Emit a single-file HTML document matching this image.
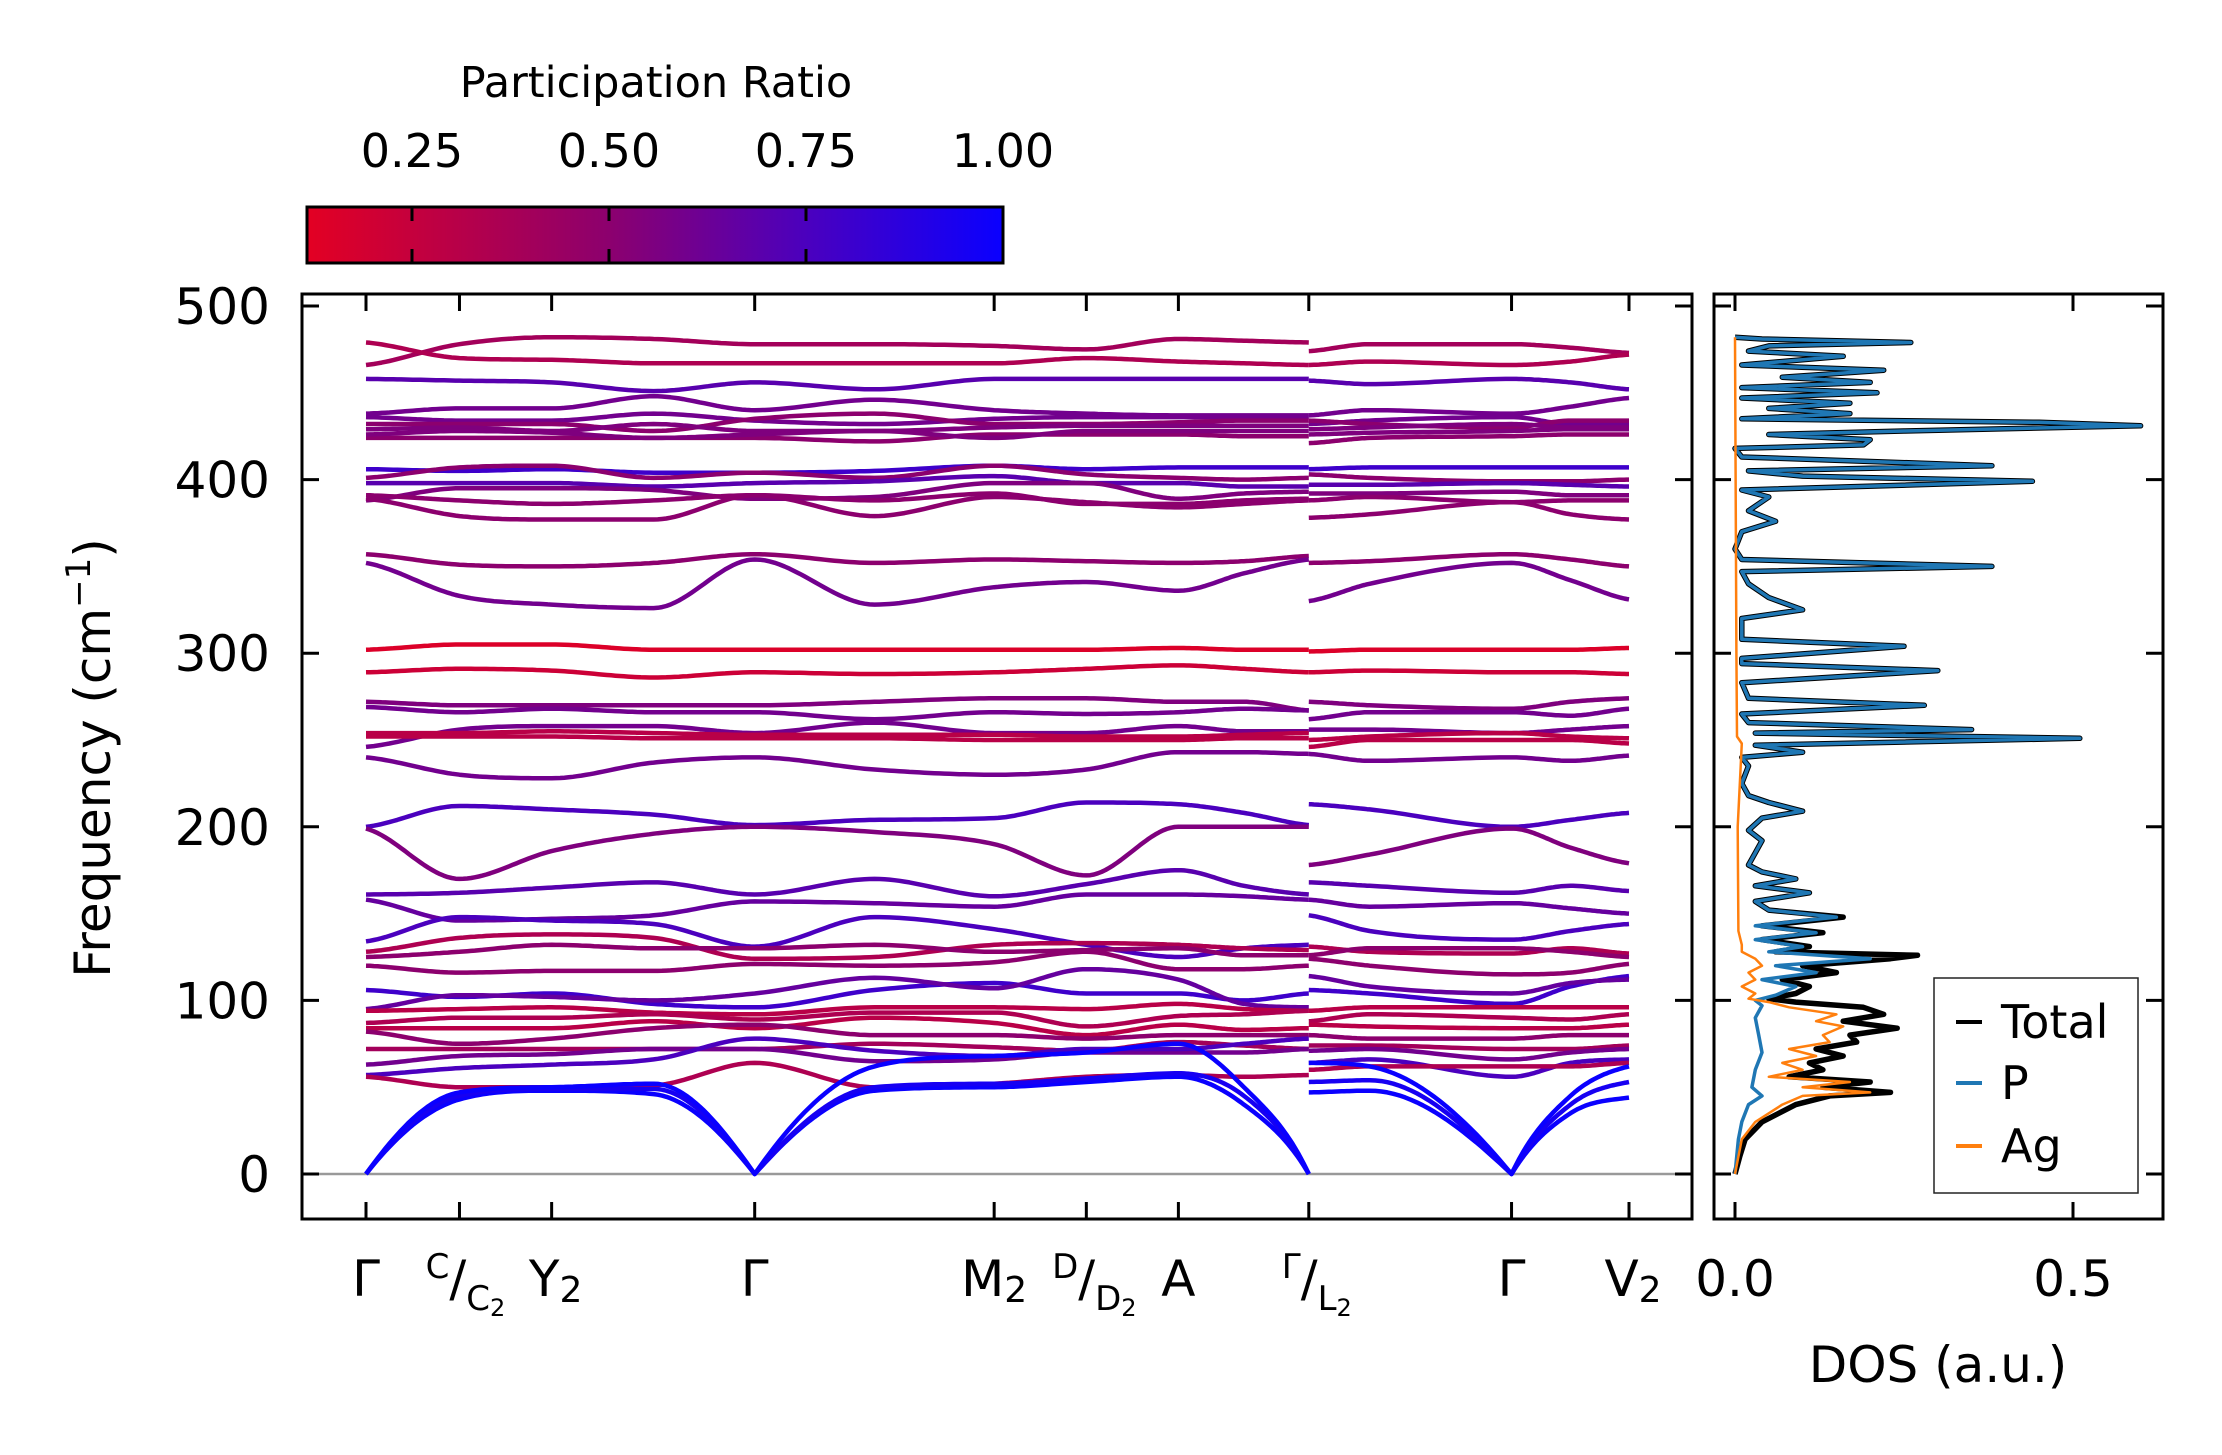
<!DOCTYPE html>
<html><head><meta charset="utf-8">
<style>
html,body{margin:0;padding:0;background:#fff;}
svg{display:block;font-family:"DejaVu Sans","Liberation Sans",sans-serif;}
</style></head>
<body>
<svg id="fig" width="2222" height="1455" viewBox="0 0 2222 1455" xmlns="http://www.w3.org/2000/svg">
<defs>
<linearGradient id="cmap" x1="0" x2="1" y1="0" y2="0">
<stop offset="0" stop-color="rgb(227,0,35)"/>
<stop offset="0.434" stop-color="rgb(140,0,110)"/>
<stop offset="0.717" stop-color="rgb(75,0,190)"/>
<stop offset="1" stop-color="rgb(10,0,255)"/>
</linearGradient>
<clipPath id="mainClip"><rect x="302" y="294" width="1390" height="925"/></clipPath>
<clipPath id="dosClip"><rect x="1714" y="294" width="449" height="925"/></clipPath>
</defs>
<g id="colorbar">
<text x="656" y="97" font-size="43" text-anchor="middle">Participation Ratio</text>
<rect x="307" y="207" width="696" height="56" fill="url(#cmap)" stroke="#000" stroke-width="3"/>
</g>
<g id="bands" clip-path="url(#mainClip)"></g>
<g id="dos" clip-path="url(#dosClip)"></g>
<g id="axes"></g>
</svg>
<script>
// ---- Band structure data ----
const seg1Labels = ["Γ","C","Y2","m1","Γ","m2","M2","D","A","m3","L2"];
const seg1Pos = [0,0.0924,0.1835,0.2843,0.3842,0.5026,0.6209,0.7120,0.8030,0.8678,0.9319];
const seg2Pos = [0.9319,0.9920,1.1323,1.1906,1.2484];
const bandSeg1 = [
[466,478,482,481,478,478,477,475,481,480,479],
[479,470,469,467,467,467,467,470,468,467,466],
[458,457,456,451,456,452,458,458,458,458,458],
[438,441,441,448,440,446,440,438,437,437,437],
[436,434,434,438,434,432,435,436,436,436,436],
[432,432,432,428,435,438,432,432,433,434,434],
[429,430,428,432,428,428,430,431,431,431,431],
[424,424,424,424,424,422,426,426,426,425,425],
[426,428,427,424,426,428,424,428,428,428,428],
[406,405,406,404,404,405,408,406,407,407,407],
[401,407,408,401,404,401,408,403,401,400,401],
[398,398,398,396,398,399,402,398,398,396,396],
[388,395,395,394,389,390,398,398,389,392,393],
[391,388,386,388,391,388,392,386,386,388,389],
[389,379,377,377,391,379,390,387,384,386,388],
[357,351,350,352,357,352,354,353,352,353,356],
[352,333,328,326,354,328,338,341,336,346,354],
[302,305,305,302,302,302,302,302,303,302,302],
[289,291,290,286,289,288,289,291,293,291,289],
[272,270,270,270,270,272,274,274,272,272,267],
[269,266,268,266,266,262,266,265,266,268,267],
[246,256,258,258,254,260,254,254,258,255,255],
[254,254,255,254,253,253,253,252,252,253,254],
[252,252,252,251,251,251,250,250,250,251,251],
[240,230,228,237,240,233,230,233,243,243,242],
[200,212,210,207,201,204,205,214,213,208,201],
[199,170,186,196,200,197,190,172,200,200,200],
[161,162,165,168,161,170,160,167,175,166,161],
[158,146,147,149,157,156,154,161,161,160,158],
[134,148,146,144,131,148,141,132,125,130,132],
[128,136,138,136,124,125,132,133,132,130,129],
[125,128,132,130,130,132,128,129,130,126,126],
[120,116,117,117,121,120,122,128,118,118,120],
[106,102,104,98,96,106,110,104,104,100,104],
[95,103,102,100,104,113,107,118,112,98,96],
[94,95,96,93,92,96,96,95,98,95,94],
[87,90,90,92,89,93,93,85,91,92,94],
[84,84,84,88,84,90,87,80,86,83,84],
[82,75,78,84,86,80,80,78,80,80,80],
[72,72,72,72,72,75,73,71,76,74,72],
[63,68,69,72,72,65,66,70,70,70,72],
[57,61,63,66,78,71,68,72,72,75,78],
[56,50,50,51,64,50,52,56,57,56,57],
[0,43,48,46,0,48,50,53,56,40,0],
[0,45,49,49,0,50,52,55,58,45,0],
[0,47,50,52,0,62,68,70,75,50,0]
];
const bandSeg2 = [
[474,478,478,476,473],[466,468,466,468,472],[457,455,458,456,452],
[437,440,438,442,447],[432,434,436,432,432],[434,432,430,434,434],
[429,430,432,430,430],[421,424,425,426,426],[426,427,428,429,429],
[406,407,407,407,407],[403,401,399,399,400],[397,397,398,397,396],
[392,392,393,391,391],[388,390,387,388,388],[378,380,387,380,377],
[352,353,357,354,350],[330,340,352,342,331],[301,302,302,302,303],
[289,290,289,289,288],[272,270,268,272,274],[262,266,266,264,268],
[256,256,254,256,258],[250,252,254,252,251],[246,250,250,250,248],
[242,238,240,238,241],[213,210,200,204,208],[178,184,199,188,179],
[168,166,162,166,163],[158,154,156,153,150],[149,140,135,140,144],
[131,128,127,130,127],[126,130,130,128,125],[124,120,115,116,121],
[106,104,98,108,114],[114,108,104,110,112],[94,96,96,96,96],
[88,92,90,89,92],[86,85,84,84,86],[80,78,78,80,80],
[74,74,72,72,74],[71,72,66,70,72],[64,66,56,64,66],
[60,62,62,62,64],[47,48,0,35,44],[53,54,0,40,53],[64,62,0,45,62]
];
const bandPR = [0.4,0.35,0.7,0.6,0.6,0.5,0.55,0.5,0.55,0.8,0.5,0.7,0.55,0.5,0.5,0.5,0.6,0.15,0.22,0.55,0.6,0.6,0.3,0.3,0.6,0.75,0.55,0.7,0.65,0.75,0.35,0.5,0.5,0.8,0.65,0.3,0.35,0.3,0.5,0.4,0.6,0.75,0.35,1.0,0.95,1.0];

const yTicks = [0,100,200,300,400,500];
const kTickPos = [0,0.0924,0.1835,0.3842,0.6209,0.7120,0.8030,0.9319,1.1323,1.2484];
const cbTicks = [0.25,0.50,0.75,1.00];
const cbTickLabels = ["0.25","0.50","0.75","1.00"];

// ---- DOS data ----
const dosFreqP = [0,20,30,40,45,50,60,70,80,90,97,100,103,108,112,116,120,124,128,131,135,139,143,148,152,157,162,166,170,174,178,185,192,198,205,209,214,218,225,235,240,243,247,251,254,256,260,265,270,274,283,290,294,297,304,308,320,325,332,340,347,350,354,360,370,376,382,390,394,399,402,405,408,413,418,420,423,426,428,431,433,435,438,441,444,447,450,453,456,459,463,466,471,474,477,479,481,482];
const dosP = [0,0.005,0.01,0.02,0.04,0.025,0.03,0.04,0.035,0.03,0.04,0.03,0.06,0.09,0.04,0.12,0.06,0.2,0.05,0.1,0.03,0.12,0.03,0.15,0.05,0.03,0.11,0.03,0.09,0.04,0.02,0.03,0.04,0.02,0.04,0.1,0.05,0.02,0.01,0.02,0.01,0.1,0.03,0.51,0.03,0.35,0.02,0.01,0.28,0.02,0.01,0.3,0.01,0.01,0.25,0.01,0.01,0.1,0.05,0.02,0.01,0.38,0.01,0,0.01,0.06,0.02,0.05,0.01,0.44,0.1,0.02,0.38,0.01,0,0.19,0.2,0.05,0.25,0.6,0.45,0.01,0.17,0.05,0.17,0.01,0.21,0.01,0.2,0.07,0.22,0.01,0.16,0.02,0.05,0.26,0.04,0];
const dosFreqAg = [0,10,20,30,40,45,47,50,53,56,60,64,68,72,76,80,85,88,92,96,99,101,104,108,112,116,120,124,128,132,140,200,248,252,300,482];
const dosAg = [0,0.005,0.01,0.03,0.07,0.1,0.2,0.1,0.17,0.05,0.1,0.07,0.12,0.08,0.14,0.13,0.16,0.12,0.15,0.08,0.05,0.02,0.03,0.01,0.03,0.02,0.04,0.03,0.01,0.01,0.005,0.004,0.01,0.003,0.002,0];
const dosFreqTot = [0,10,20,30,40,45,47,50,53,56,60,64,68,72,76,80,84,88,92,96,99,101,104,108,112,116,120,124,126,128,131,135,139,143,148,152];
const dosTot = [0,0.007,0.015,0.04,0.09,0.14,0.23,0.13,0.2,0.08,0.13,0.11,0.16,0.12,0.18,0.17,0.24,0.16,0.22,0.19,0.09,0.05,0.09,0.11,0.07,0.15,0.1,0.23,0.27,0.06,0.11,0.04,0.13,0.04,0.16,0.05];

// ---- scales ----
const X0 = 366, KSCALE = (1629-366)/1.2484;
function xk(k){ return X0 + k*KSCALE; }
function yf(f){ return 1174 - f*1.736; }
function xd(d){ return 1735 + d*676; }
function xcb(v){ return 412 + (v-0.25)*788; }
function prColor(v){
  const stops=[[0.117,[227,0,35]],[0.5,[140,0,110]],[0.75,[75,0,190]],[1.0,[10,0,255]]];
  v=Math.max(0.117,Math.min(1,v));
  for(let i=0;i<stops.length-1;i++){
    const [a,ca]=stops[i],[b,cb]=stops[i+1];
    if(v<=b){const t=(v-a)/(b-a);return 'rgb('+ca.map((c,j)=>Math.round(c+(cb[j]-c)*t)).join(',')+')';}
  }
  return 'rgb(10,0,255)';
}
const NS='http://www.w3.org/2000/svg';
function mk(tag,attrs,parent){const e=document.createElementNS(NS,tag);for(const k in attrs)e.setAttribute(k,attrs[k]);parent.appendChild(e);return e;}

// monotone cubic interpolation with cusp endpoints
function monotonePiece(xs,ys,n){
  const m=xs.length,d=[],t=[];
  for(let i=0;i<m-1;i++)d.push((ys[i+1]-ys[i])/(xs[i+1]-xs[i]));
  if(m===2){t[0]=d[0];t[1]=d[0];}
  else{
    t[0]=(ys[0]===0)?d[0]*1.6:d[0]*0.5;
    t[m-1]=(ys[m-1]===0)?d[m-2]*1.6:d[m-2]*0.5;
    for(let i=1;i<m-1;i++){t[i]=(d[i-1]*d[i]<=0)?0:(d[i-1]+d[i])/2;}
  }
  for(let i=0;i<m-1;i++){if(d[i]===0){t[i]=0;t[i+1]=0;continue;}
    const a=t[i]/d[i],b=t[i+1]/d[i],s=a*a+b*b;if(s>9){const tau=3/Math.sqrt(s);t[i]=tau*a*d[i];t[i+1]=tau*b*d[i];}}
  const pts=[];
  for(let i=0;i<m-1;i++){const h=xs[i+1]-xs[i];
    for(let j=0;j<n;j++){const s=j/n,h00=2*s*s*s-3*s*s+1,h10=s*s*s-2*s*s+s,h01=-2*s*s*s+3*s*s,h11=s*s*s-s*s;
      pts.push([xs[i]+s*h,h00*ys[i]+h10*h*t[i]+h01*ys[i+1]+h11*h*t[i+1]]);}}
  pts.push([xs[m-1],ys[m-1]]);return pts;
}
function interp(xs,ys,n){
  // split at interior zeros (Gamma cusps)
  let pts=[],start=0;
  for(let i=1;i<xs.length;i++){
    if(i===xs.length-1||ys[i]===0){
      const p=monotonePiece(xs.slice(start,i+1),ys.slice(start,i+1),n);
      pts=pts.concat(start===0?p:p.slice(1));start=i;
    }
  }
  return pts;
}

const gB=document.getElementById('bands');
const zl=mk('line',{x1:302,x2:1692,y1:yf(0),y2:yf(0),stroke:'#999','stroke-width':2.5},gB);


function drawBand(pos,vals,color,name){
  const pts=interp(pos.map(xk),vals,24).map(q=>[q[0],yf(q[1])]);
  const p=mk('path',{d:'M'+pts.map(q=>q[0].toFixed(1)+','+q[1].toFixed(1)).join('L'),fill:'none',stroke:color,'stroke-width':4.5,'stroke-linejoin':'round'},gB);
  
  
}
bandSeg1.forEach((b,i)=>drawBand(seg1Pos,b,prColor(bandPR[i]),'band-'+(i+1)+'-segment-1'));
bandSeg2.forEach((b,i)=>drawBand(seg2Pos,b,prColor(bandPR[i]),'band-'+(i+1)+'-segment-2'));

// DOS
const gD=document.getElementById('dos');
function drawDos(fr,vals,color,w,name){
  const p=mk('path',{d:'M'+fr.map((f,i)=>xd(vals[i]).toFixed(1)+','+yf(f).toFixed(1)).join('L'),fill:'none',stroke:color,'stroke-width':w,'stroke-linejoin':'round'},gD);
  
  
}
const cut=dosFreqP.indexOf(152)+1;
drawDos(dosFreqTot.concat(dosFreqP.slice(cut)),dosTot.concat(dosP.slice(cut)),'#000',5.5,'dos-total-line');
drawDos(dosFreqP,dosP,'#1f77b4',3.5,'dos-p-line');
drawDos(dosFreqAg,dosAg,'#ff7f0e',2.5,'dos-ag-line');

// Axes
const gA=document.getElementById('axes');
function line(x1,y1,x2,y2,w,name){const l=mk('line',{x1,y1,x2,y2,stroke:'#000','stroke-width':w},gA);return l;}
function txt(x,y,s,size,anchor,name){const t=mk('text',{x,y,'font-size':size,'text-anchor':anchor||'middle'},gA);t.textContent=s;return t;}
const mf=mk('rect',{x:302,y:294,width:1390,height:925,fill:'none',stroke:'#000','stroke-width':3},gA);


const df=mk('rect',{x:1714,y:294,width:449,height:925,fill:'none',stroke:'#000','stroke-width':3},gA);


yTicks.forEach(v=>{const y=yf(v);
  line(302,y,319,y,3,'y-tick-left-'+v);line(1675,y,1692,y,3,'y-tick-right-'+v);
  line(1714,y,1731,y,3,'dos-y-tick-left-'+v);line(2146,y,2163,y,3,'dos-y-tick-right-'+v);
  txt(270,y+18,String(v),50,'end','y-tick-label-'+v);});
kTickPos.forEach((k,i)=>{const x=xk(k);line(x,294,x,311,3,'x-tick-top-'+i);line(x,1202,x,1219,3,'x-tick-bottom-'+i);});
[0,0.5].forEach(d=>{const x=xd(d);line(x,294,x,311,3,'dos-x-tick-top-'+d);line(x,1202,x,1219,3,'dos-x-tick-bottom-'+d);
  txt(x,1296,d.toFixed(1),50,'middle','dos-x-tick-label-'+d);});
function klabel(x,html,name){const t=mk('text',{x,y:1296,'font-size':50,'text-anchor':'middle'},gA);t.innerHTML=html;}
klabel(xk(0),'Γ','k-label-gamma-1');
klabel(xk(0.0924)+6,'<tspan font-size="34" dy="-18">C</tspan><tspan dy="18">/</tspan><tspan font-size="34" dy="14">C</tspan><tspan font-size="24" dy="6">2</tspan>','k-label-c-c2');
klabel(xk(0.1835)+4,'Y<tspan font-size="36" dy="6">2</tspan>','k-label-y2');
klabel(xk(0.3842),'Γ','k-label-gamma-2');
klabel(xk(0.6209),'M<tspan font-size="36" dy="6">2</tspan>','k-label-m2');
klabel(xk(0.7120)+8,'<tspan font-size="34" dy="-18">D</tspan><tspan dy="18">/</tspan><tspan font-size="34" dy="14">D</tspan><tspan font-size="24" dy="6">2</tspan>','k-label-d-d2');
klabel(xk(0.8030),'A','k-label-a');
klabel(xk(0.9319)+8,'<tspan font-size="34" dy="-18">Γ</tspan><tspan dy="18">/</tspan><tspan font-size="34" dy="14">L</tspan><tspan font-size="24" dy="6">2</tspan>','k-label-gamma-l2');
klabel(xk(1.1323),'Γ','k-label-gamma-3');
klabel(xk(1.2484)+4,'V<tspan font-size="36" dy="6">2</tspan>','k-label-v2');
const yt=mk('text',{x:0,y:0,'font-size':50,'text-anchor':'middle',transform:'translate(110,758) rotate(-90)'},gA);
yt.innerHTML='Frequency (cm<tspan font-size="34" dy="-20">−1</tspan><tspan dy="20">)</tspan>';


txt(1938,1382,'DOS (a.u.)',50,'middle','dos-x-axis-title');
cbTicks.forEach((v,i)=>{const x=xcb(v);
  if(v<1){line(x,207,x,221,3,'colorbar-tick-top-'+i);line(x,249,x,263,3,'colorbar-tick-bottom-'+i);}
  txt(x,167,cbTickLabels[i],46,'middle','colorbar-tick-label-'+i);});
const lg=mk('rect',{x:1934,y:978,width:204,height:215,fill:'#fff',stroke:'#222','stroke-width':1.5},gA);


[['Total','#000',1022],['P','#1f77b4',1083],['Ag','#ff7f0e',1146]].forEach(e=>{
  line(1956,e[2],1982,e[2],4,'legend-swatch-'+e[0].toLowerCase()).setAttribute('stroke',e[1]);
  txt(2001,e[2]+16,e[0],46,'start','legend-entry-'+e[0].toLowerCase());});
</script>
</body></html>
